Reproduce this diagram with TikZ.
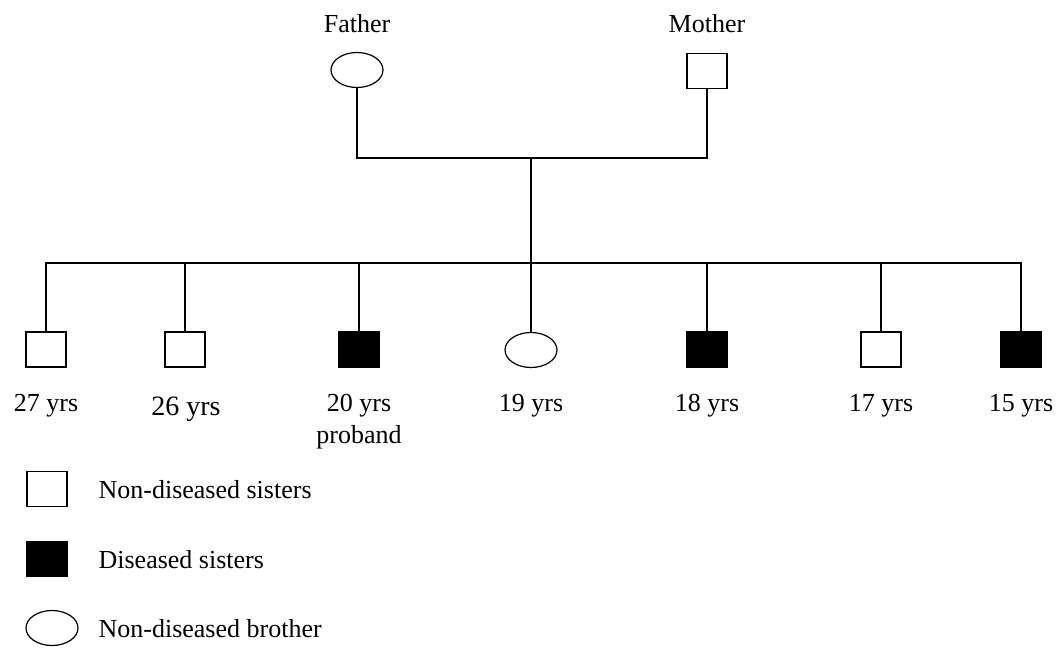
\documentclass[tikz,border=0pt]{standalone}
\usepackage{fontspec}
\setmainfont{Liberation Serif}
\usepackage{tikz}
\usetikzlibrary{positioning,shapes.geometric}

\begin{document}
\begin{tikzpicture}[x=1pt,y=-1pt,line width=1.2pt,
    every node/.style={font=\fontsize{26}{32}\selectfont,inner sep=0pt},
    sis/.style={draw,rectangle,minimum width=40pt,minimum height=35pt},
    sick/.style={sis,fill=black},
    bro/.style={draw,ellipse,minimum width=52pt,minimum height=35pt},
    lbl/.style={anchor=base}]
    \useasboundingbox (0,0) rectangle (1056,648);
    % parents
    \node[bro] (father) at (357,70) {};
    \node[sis] (mother) at (707,71) {};
    \node[lbl] (tfa) at (357,32) {Father};
    \node[lbl] (tmo) at (707,32) {Mother};
    \coordinate (mid) at (531,158);
    \coordinate (sib) at (531,263);
    \draw (father.south) |- (mid) -| (mother.south);
    \draw (mid) -- (sib);
    % children
    \node[sis] (c1) at (46,349.5) {};
    \node[sis] (c2) at (185,349.5) {};
    \node[sick] (c3) at (359,349.5) {};
    \node[bro] (c4) at (531,350) {};
    \node[sick] (c5) at (707,349.5) {};
    \node[sis] (c6) at (881,349.5) {};
    \node[sick] (c7) at (1021,349.5) {};
    \foreach \c in {c1,c2,c3,c4,c5,c6,c7}{\draw (\c.north) |- (sib);}
    \node[lbl] (a1) at (46,411) {27 yrs};
    \node[lbl,font=\fontsize{28}{32}\selectfont] (a2) at (186,415) {26 yrs};
    \node[lbl] (a3) at (359,411) {20 yrs};
    \node[lbl] (pb) at (359,443) {proband};
    \node[lbl] (a4) at (531,411) {19 yrs};
    \node[lbl] (a5) at (707,411) {18 yrs};
    \node[lbl] (a6) at (881,411) {17 yrs};
    \node[lbl] (a7) at (1021,411) {15 yrs};
    % key
    \node[sis] (k1) at (47,489) {};
    \node[sick] (k2) at (47,559) {};
    \node[bro] (k3) at (52,628) {};
    \node[anchor=base west] (t1) at (98,498) {Non-diseased sisters};
    \node[anchor=base west] (t2) at (98,568) {Diseased sisters};
    \node[anchor=base west] (t3) at (98,637) {Non-diseased brother};
\end{tikzpicture}
\end{document}
